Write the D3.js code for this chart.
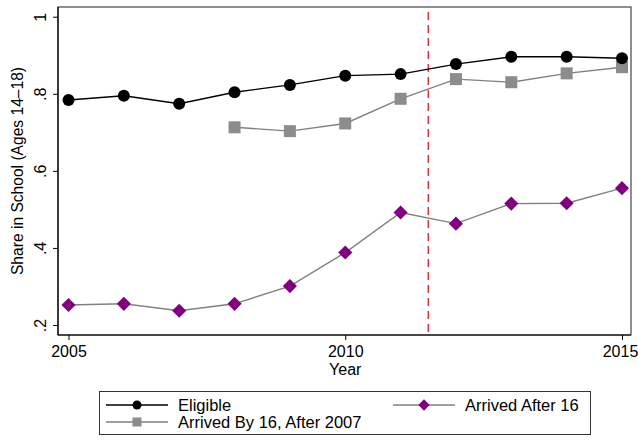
<!DOCTYPE html>
<html>
<head>
<meta charset="utf-8">
<script src="https://cdn.jsdelivr.net/npm/d3@7"></script>
<style>
  html, body { margin: 0; padding: 0; background: #fff; }
  svg { display: block; font-family: "Liberation Sans", Arial, Helvetica, sans-serif; }
</style>
</head>
<body>
<svg id="chart" width="638" height="444"></svg>
<script>
// Share of youth (ages 14–18) in school, by year and group
const years = [2005, 2006, 2007, 2008, 2009, 2010, 2011, 2012, 2013, 2014, 2015];
const eligible = [0.784, 0.795, 0.774, 0.804, 0.823, 0.847, 0.851, 0.877, 0.896, 0.896, 0.892];
const arrivedBy16Years = [2008, 2009, 2010, 2011, 2012, 2013, 2014, 2015];
const arrivedBy16 = [0.713, 0.703, 0.723, 0.787, 0.838, 0.830, 0.853, 0.869];
const arrivedAfter16 = [0.252, 0.255, 0.237, 0.255, 0.301, 0.388, 0.492, 0.463, 0.515, 0.516, 0.555];
const xTicks = [2005, 2010, 2015];
const yTicks = [0.2, 0.4, 0.6, 0.8, 1];
const cutoffYear = 2011.5;

const svg = d3.select("#chart");
const frame = { left: 58, top: 7, right: 631, bottom: 335 };
const FONT = "Liberation Sans, Arial, sans-serif";

const x = d3.scaleLinear().domain([2005, 2015]).range([68.5, 622]);
const y = d3.scaleLinear().domain([0.2, 1]).range([325, 16.7]);

// plot region border
svg.append("rect")
  .attr("x", frame.left).attr("y", frame.top)
  .attr("width", frame.right - frame.left).attr("height", frame.bottom - frame.top)
  .attr("fill", "none").attr("stroke", "#444").attr("stroke-width", 1.2);

// x axis
const xAxis = svg.append("g")
  .attr("transform", `translate(0,${frame.bottom})`)
  .call(d3.axisBottom(x).tickValues(xTicks).tickFormat(d3.format("d")).tickSize(5).tickSizeOuter(0));
xAxis.select(".domain").attr("d", `M${frame.left},0H${frame.right}`).attr("stroke", "#000").attr("stroke-width", 1.2);
xAxis.selectAll(".tick line").attr("stroke", "#000");
xAxis.selectAll(".tick text").attr("font-size", 16).attr("fill", "#000").attr("dy", "0.88em")
  .attr("font-family", FONT)
  .attr("x", d => d === 2015 ? -2 : 0);

// y axis
const yAxis = svg.append("g")
  .attr("transform", `translate(${frame.left},0)`)
  .call(d3.axisLeft(y).tickValues(yTicks).tickFormat(d => d === 1 ? "1" : d3.format(".1f")(d).replace(/^0/, "")).tickSize(5).tickSizeOuter(0));
yAxis.select(".domain").attr("d", `M0,${frame.top}V${frame.bottom}`).attr("stroke", "#000").attr("stroke-width", 1.2);
yAxis.selectAll(".tick line").attr("stroke", "#000");
yAxis.selectAll(".tick text")
  .attr("font-size", 16).attr("fill", "#000")
  .attr("font-family", FONT)
  .attr("x", null).attr("dy", null)
  .attr("text-anchor", "middle")
  .attr("transform", "translate(-12.5,0) rotate(-90)");

// axis titles
svg.append("text")
  .attr("x", x(2010)).attr("y", 375)
  .attr("text-anchor", "middle").attr("font-size", 16).text("Year");
svg.append("text")
  .attr("transform", `translate(23,${(frame.top + frame.bottom) / 2}) rotate(-90)`)
  .attr("text-anchor", "middle").attr("font-size", 15.6).text("Share in School (Ages 14–18)");

// policy cutoff
svg.append("line")
  .attr("x1", x(cutoffYear)).attr("x2", x(cutoffYear))
  .attr("y1", frame.top + 5).attr("y2", frame.bottom)
  .attr("stroke", "#e8262b").attr("stroke-width", 1.4).attr("stroke-dasharray", "8,5");

const line = d3.line().x(d => x(d[0])).y(d => y(d[1]));
const diamond = d3.symbol().type(d3.symbolSquare).size(100);

// Arrived after 16
const after = years.map((yr, i) => [yr, arrivedAfter16[i]]);
svg.append("path").attr("d", line(after)).attr("fill", "none").attr("stroke", "#808080").attr("stroke-width", 1.4);
svg.selectAll(".after").data(after).join("path").attr("class", "after")
  .attr("d", diamond)
  .attr("transform", d => `translate(${x(d[0])},${y(d[1])}) rotate(45)`)
  .attr("fill", "#800080");

// Arrived by 16, after 2007
const by16 = arrivedBy16Years.map((yr, i) => [yr, arrivedBy16[i]]);
svg.append("path").attr("d", line(by16)).attr("fill", "none").attr("stroke", "#808080").attr("stroke-width", 1.4);
svg.selectAll(".by16").data(by16).join("rect").attr("class", "by16")
  .attr("x", d => x(d[0]) - 6).attr("y", d => y(d[1]) - 6)
  .attr("width", 12).attr("height", 12).attr("fill", "#8c8c8c");

// Eligible
const elig = years.map((yr, i) => [yr, eligible[i]]);
svg.append("path").attr("d", line(elig)).attr("fill", "none").attr("stroke", "#000").attr("stroke-width", 1.4);
svg.selectAll(".elig").data(elig).join("circle").attr("class", "elig")
  .attr("cx", d => x(d[0])).attr("cy", d => y(d[1])).attr("r", 6).attr("fill", "#000");

// legend
const legend = svg.append("g");
legend.append("rect").attr("x", 99.5).attr("y", 391.5).attr("width", 491).attr("height", 43)
  .attr("fill", "#fff").attr("stroke", "#333").attr("stroke-width", 1);

function legendItem(lx, ly, label, lineColor, drawMarker) {
  legend.append("line").attr("x1", lx).attr("x2", lx + 62).attr("y1", ly).attr("y2", ly)
    .attr("stroke", lineColor).attr("stroke-width", 1.4);
  drawMarker(lx + 31, ly);
  legend.append("text").attr("x", lx + 72).attr("y", ly + 5.5).attr("font-size", 16.5).text(label);
}
legendItem(106, 405, "Eligible", "#000", (cx, cy) =>
  legend.append("circle").attr("cx", cx).attr("cy", cy).attr("r", 4.5).attr("fill", "#000"));
legendItem(393, 405, "Arrived After 16", "#808080", (cx, cy) =>
  legend.append("path").attr("d", d3.symbol().type(d3.symbolSquare).size(64)())
    .attr("transform", `translate(${cx},${cy}) rotate(45)`).attr("fill", "#800080"));
legendItem(106, 422, "Arrived By 16, After 2007", "#808080", (cx, cy) =>
  legend.append("rect").attr("x", cx - 4.5).attr("y", cy - 4.5).attr("width", 9).attr("height", 9).attr("fill", "#8c8c8c"));
</script>
</body>
</html>
